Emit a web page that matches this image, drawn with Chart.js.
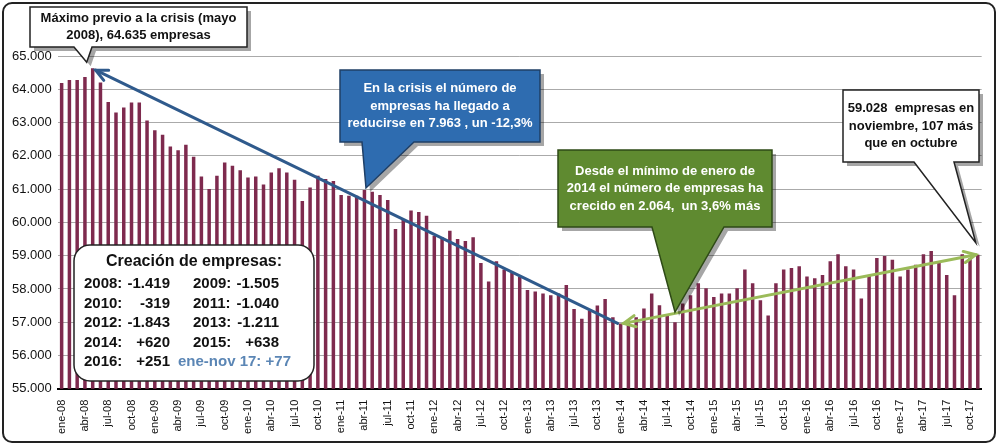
<!DOCTYPE html>
<html>
<head>
<meta charset="utf-8">
<script src="https://cdn.jsdelivr.net/npm/chart.js@4.4.1/dist/chart.umd.min.js"></script>
<style>
  body { margin: 0; background: #fff; }
  #wrap { position: absolute; left: 2px; top: 2px; width: 994px; height: 441px; border: 2px solid #222; border-radius: 10px; box-sizing: border-box; overflow: hidden; }
  canvas { display: block; }
</style>
</head>
<body>
<div id="wrap"><canvas id="chart" width="990" height="437"></canvas></div>
<script>
const meses = ['ene', 'feb', 'mar', 'abr', 'may', 'jun', 'jul', 'ago', 'sep', 'oct', 'nov', 'dic'];
const years = ['08', '09', '10', '11', '12', '13', '14', '15', '16', '17'];
const labels = [];
years.forEach(y => meses.forEach(m => labels.push(m + '-' + y)));
labels.pop(); // hasta nov-17

// miles de empresas
const empresas = [
  64.19, 64.28, 64.28, 64.37, 64.635, 64.20, 63.62, 63.30, 63.45, 63.60, 63.60, 63.06,
  62.77, 62.63, 62.28, 62.17, 62.33, 61.97, 61.38, 61.00, 61.40, 61.80, 61.70, 61.57,
  61.35, 61.38, 61.14, 61.50, 61.63, 61.50, 61.28, 60.64, 61.05, 61.40, 61.30, 61.24,
  60.82, 60.80, 60.80, 60.97, 60.92, 60.82, 60.67, 59.80, 60.10, 60.36, 60.31, 60.20,
  59.60, 59.55, 59.75, 59.50, 59.44, 59.55, 58.78, 58.22, 58.83, 58.58, 58.48, 58.36,
  57.97, 57.92, 57.86, 57.81, 57.86, 58.12, 57.40, 57.10, 57.35, 57.50, 57.70, 57.15,
  56.964, 57.05, 57.15, 57.41, 57.86, 57.51, 57.25, 57.00, 57.56, 57.81, 58.17, 58.02,
  57.76, 57.86, 57.86, 58.02, 58.58, 58.17, 57.66, 57.20, 58.17, 58.58, 58.63, 58.68,
  58.37, 58.32, 58.42, 58.83, 59.04, 58.68, 58.58, 57.71, 58.42, 58.93, 58.99, 58.88,
  58.37, 58.58, 58.73, 59.04, 59.14, 58.78, 58.42, 57.81, 59.04, 58.921, 59.028
];

const FONT = '"Liberation Sans Narrow", "Liberation Sans", Arial, sans-serif';

function box(ctx, x, y, w, h, fill, stroke, tail, lines, color, size) {
  ctx.save();
  ctx.fillStyle = 'rgba(0,0,0,0.35)';
  path(ctx, x + 4, y + 4, w, h, tail.map(p => [p[0] + 4, p[1] + 4]));
  ctx.fill();
  ctx.fillStyle = fill;
  ctx.strokeStyle = stroke;
  ctx.lineWidth = 1.5;
  path(ctx, x, y, w, h, tail);
  ctx.fill();
  ctx.stroke();
  ctx.fillStyle = color;
  ctx.font = 'bold ' + size + 'px ' + FONT;
  ctx.textAlign = 'center';
  ctx.textBaseline = 'middle';
  const lh = size * 1.35;
  const y0 = y + h / 2 - (lines.length - 1) * lh / 2;
  lines.forEach((t, i) => ctx.fillText(t, x + w / 2, y0 + i * lh));
  ctx.restore();
}

function path(ctx, x, y, w, h, tail) {
  ctx.beginPath();
  ctx.moveTo(x, y);
  ctx.lineTo(x + w, y);
  ctx.lineTo(x + w, y + h);
  ctx.lineTo(tail[2][0], tail[2][1]);
  ctx.lineTo(tail[1][0], tail[1][1]);
  ctx.lineTo(tail[0][0], tail[0][1]);
  ctx.lineTo(x, y + h);
  ctx.closePath();
}

function arrow(ctx, x1, y1, x2, y2, color, both) {
  ctx.save();
  ctx.strokeStyle = color;
  ctx.lineWidth = 3;
  ctx.lineCap = 'round';
  ctx.beginPath();
  ctx.moveTo(x1, y1);
  ctx.lineTo(x2, y2);
  ctx.stroke();
  const head = (xa, ya, xb, yb) => {
    const a = Math.atan2(yb - ya, xb - xa);
    ctx.beginPath();
    ctx.moveTo(xb - 13 * Math.cos(a - 0.45), yb - 13 * Math.sin(a - 0.45));
    ctx.lineTo(xb, yb);
    ctx.lineTo(xb - 13 * Math.cos(a + 0.45), yb - 13 * Math.sin(a + 0.45));
    ctx.stroke();
  };
  head(x1, y1, x2, y2);
  if (both) head(x2, y2, x1, y1);
  ctx.restore();
}

const annotations = {
  id: 'annotations',
  afterDatasetsDraw(chart) {
    const ctx = chart.ctx;
    const xs = chart.scales.x, ys = chart.scales.y;
    const px = i => xs.getPixelForValue(i);
    const py = i => ys.getPixelForValue(empresas[i] * 1000);
    const iMax = 4, iMin = 72, iLast = empresas.length - 1;

    arrow(ctx, px(iMin) - 3, py(iMin), px(iMax) + 3, py(iMax) + 2, '#2F5A8C', false);
    arrow(ctx, px(iMin) + 3, py(iMin), px(iLast) - 2, py(iLast), '#9BBB59', true);

    box(ctx, 26, 3, 217, 40, '#fff', '#222', [[70, 43], [px(iMax) - 6, py(iMax) - 6], [88, 43]],
      ['Máximo previo a la crisis (mayo', '2008), 64.635 empresas'], '#111', 13);
    box(ctx, 336, 66, 200, 72, '#2E6CB0', '#1F3F66', [[358, 138], [362, 184], [410, 138]],
      ['En la crisis el número de', 'empresas ha llegado a', 'reducirse en 7.963 , un -12,3%'], '#fff', 13);
    box(ctx, 554, 146, 214, 77, '#5F8A30', '#2E4A16', [[648, 223], [671, 308], [720, 223]],
      ['Desde el mínimo de enero de', '2014 el número de empresas ha', 'crecido en 2.064,  un 3,6% más'], '#fff', 13);
    box(ctx, 839, 86, 136, 72, '#fff', '#222', [[910, 158], [px(iLast) - 2, py(iLast) - 12], [950, 158]],
      ['59.028  empresas en', 'noviembre, 107 más', 'que en octubre'], '#111', 13);

    // cuadro de creación de empresas
    ctx.save();
    ctx.fillStyle = '#fff';
    ctx.strokeStyle = '#222';
    ctx.lineWidth = 1.5;
    ctx.beginPath();
    ctx.roundRect(70, 241, 240, 136, 16);
    ctx.fill();
    ctx.stroke();
    ctx.fillStyle = '#111';
    ctx.textBaseline = 'middle';
    ctx.font = 'bold 16px ' + FONT;
    ctx.textAlign = 'center';
    ctx.fillText('Creación de empresas:', 190, 258);
    ctx.font = 'bold 15px ' + FONT;
    const rows = [
      ['2008:', '-1.419', '2009:', '-1.505'],
      ['2010:', '-319', '2011:', '-1.040'],
      ['2012:', '-1.843', '2013:', '-1.211'],
      ['2014:', '+620', '2015:', '+638']
    ];
    rows.forEach((r, i) => {
      const y = 280 + i * 19.5;
      ctx.textAlign = 'left';
      ctx.fillText(r[0], 80, y);
      ctx.fillText(r[2], 189, y);
      ctx.textAlign = 'right';
      ctx.fillText(r[1], 166, y);
      ctx.fillText(r[3], 275, y);
    });
    const y5 = 280 + 4 * 19.5;
    ctx.textAlign = 'left';
    ctx.fillText('2016:', 80, y5);
    ctx.textAlign = 'right';
    ctx.fillText('+251', 166, y5);
    ctx.textAlign = 'left';
    ctx.fillStyle = '#5B86B5';
    ctx.fillText('ene-nov 17: +77', 174, y5);
    ctx.restore();
  }
};

new Chart(document.getElementById('chart'), {
  type: 'bar',
  data: {
    labels: labels,
    datasets: [{
      data: empresas.map(v => v * 1000),
      backgroundColor: '#7E2A4E',
      barPercentage: 0.45,
      categoryPercentage: 1
    }]
  },
  options: {
    responsive: false,
    animation: false,
    layout: { padding: { left: 2, right: 4, top: 52, bottom: 4 } },
    plugins: { legend: { display: false }, tooltip: { enabled: false } },
    scales: {
      x: {
        grid: { display: false },
        border: { color: '#000', width: 2 },
        ticks: {
          autoSkip: false,
          maxRotation: 90,
          minRotation: 90,
          color: '#111',
          font: { family: 'Arial, "Liberation Sans", sans-serif', size: 11 },
          callback: (v, i) => (i % 3 === 0 ? labels[i] : '')
        }
      },
      y: {
        min: 55000,
        max: 65000,
        border: { display: false },
        grid: { color: '#AAA', borderDash: [3, 3], drawTicks: false },
        ticks: {
          stepSize: 1000,
          padding: 6,
          color: '#111',
          font: { family: 'Arial, "Liberation Sans", sans-serif', size: 13 },
          callback: v => (v / 1000).toFixed(3)
        }
      }
    }
  },
  plugins: [annotations]
});
</script>
</body>
</html>
